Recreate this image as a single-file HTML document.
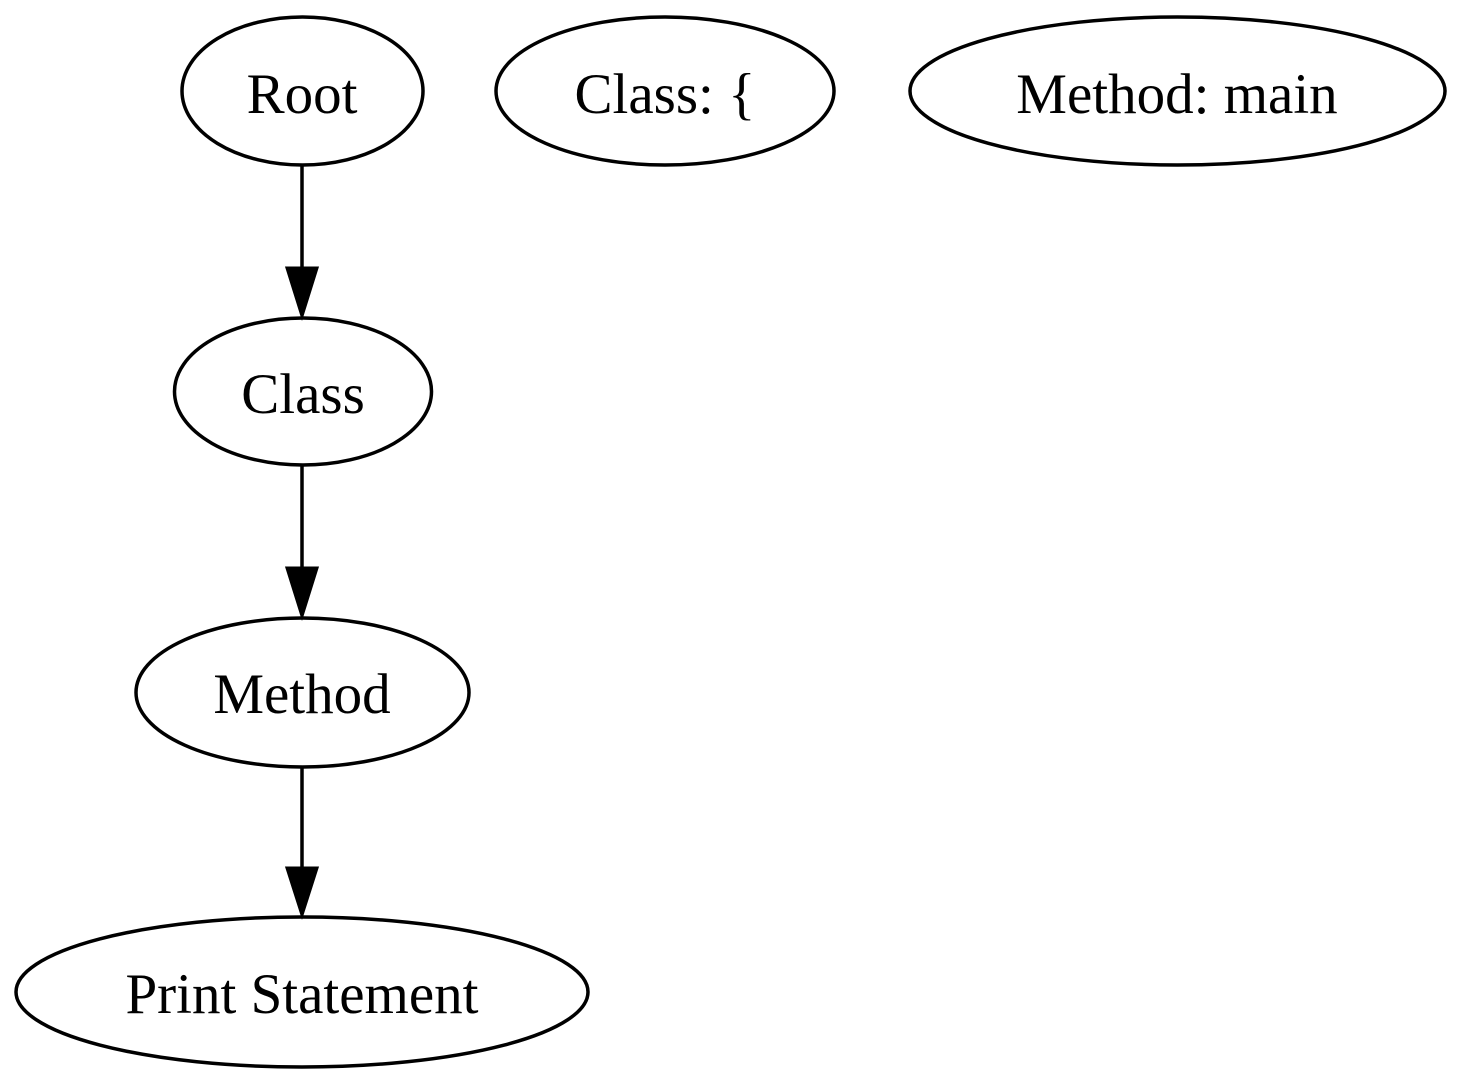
<!DOCTYPE html>
<html><head><style>html,body{margin:0;padding:0;background:#fff;}</style></head>
<body>
<svg width="1462" height="1083" viewBox="0 0 1462 1083" xmlns="http://www.w3.org/2000/svg">
<g fill="none" stroke="#000" stroke-width="3.5">
<ellipse cx="302.5" cy="91" rx="120.5" ry="74"/>
<ellipse cx="665" cy="91" rx="169" ry="74"/>
<ellipse cx="1177.5" cy="91" rx="267.5" ry="74"/>
<ellipse cx="303" cy="391.5" rx="128.5" ry="73.5"/>
<ellipse cx="302.5" cy="692.5" rx="166.5" ry="74.5"/>
<ellipse cx="302" cy="992" rx="286" ry="75"/>
<line x1="302" y1="165" x2="302" y2="268"/>
<line x1="302" y1="465" x2="302" y2="568"/>
<line x1="302" y1="767" x2="302" y2="868"/>
</g>
<g fill="#000" stroke="#000" stroke-width="3">
<polygon points="287,268 317,268 302,316"/>
<polygon points="287,568 317,568 302,616"/>
<polygon points="287,868 317,868 302,915"/>
</g>
<g font-family="'Liberation Serif', serif" font-size="57" text-anchor="middle" fill="#000">
<text x="302" y="113">Root</text>
<text x="665" y="113">Class: {</text>
<text x="1177" y="113">Method: main</text>
<text x="303" y="413">Class</text>
<text x="302" y="713">Method</text>
<text x="302" y="1013">Print Statement</text>
</g>
</svg>
</body></html>
